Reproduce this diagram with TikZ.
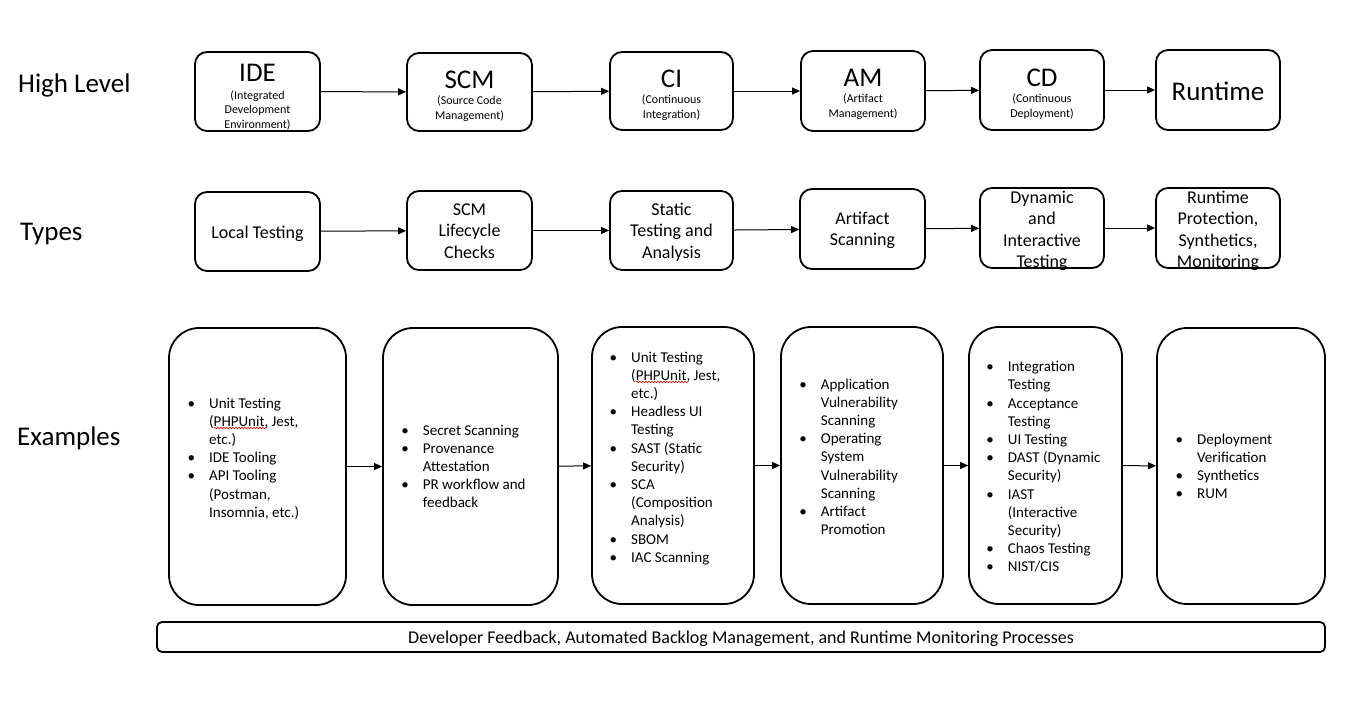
\documentclass[tikz,border=0pt]{standalone}
\usepackage{fontspec}
\setmainfont{Carlito}
\usetikzlibrary{arrows.meta,decorations.pathmorphing}
\newcommand{\BigF}{\fontsize{27}{32}\selectfont}
\newcommand{\SmallF}{\fontsize{12}{14.6}\selectfont}
\newcommand{\MidF}{\fontsize{18}{21.6}\selectfont}
\newcommand{\ExF}{\fontsize{15}{18.2}\selectfont}
\newcommand{\BarF}{\fontsize{18}{21.6}\selectfont}
\begin{document}
\begin{tikzpicture}[x=1pt,y=-1pt,
  hbox/.style={draw, line width=1.8pt, rounded corners=12pt, inner sep=0pt},
  ebox/.style={draw, line width=1.8pt, rounded corners=30pt, inner sep=0pt},
  bar/.style={draw, line width=1.8pt, rounded corners=5pt, inner sep=0pt},
  arr/.style={-{Triangle[length=8pt,width=7pt]}, line width=1pt},
  rowlabel/.style={font=\BigF, anchor=base west, inner sep=0pt},
  toptext/.style={font=\SmallF, anchor=base, inner sep=0pt},
  midtext/.style={font=\MidF, anchor=base, inner sep=0pt},
  extext/.style={font=\ExF, anchor=base west, inner sep=0pt},
  squig/.style={draw=red, line width=0.6pt, decorate, decoration={snake, amplitude=0.8pt, segment length=3pt}}
]
\useasboundingbox[fill=white] (0,0) rectangle (1357,710);

% row labels
\node[rowlabel] (lhigh) at (18,92.7) {High Level};
\node[rowlabel] (ltypes) at (20,240) {Types};
\node[rowlabel] (lex) at (17,445) {Examples};

% ---------- row 1 ----------
\node[hbox, minimum width=125pt, minimum height=79pt] (ide) at (257.5,91.5) {};
\node[hbox, minimum width=125pt, minimum height=78pt] (scm) at (469.5,92) {};
\node[hbox, minimum width=123pt, minimum height=78pt] (ci) at (671.5,91) {};
\node[hbox, minimum width=124pt, minimum height=80pt] (am) at (863,91) {};
\node[hbox, minimum width=124pt, minimum height=80pt] (cd) at (1042,90) {};
\node[hbox, minimum width=124pt, minimum height=80pt] (rt) at (1218,90) {};

\node[toptext] (ideT) at (257.5,81) {\begin{tabular}[t]{@{}c@{}}{\BigF IDE}\\[3.5pt] (Integrated\\ Development\\ Environment)\end{tabular}};
\node[toptext] (scmT) at (469.5,88) {\begin{tabular}[t]{@{}c@{}}{\BigF SCM}\\[1.8pt] (Source Code\\ Management)\end{tabular}};
\node[toptext] (ciT) at (671.5,87.5) {\begin{tabular}[t]{@{}c@{}}{\BigF CI}\\[1.8pt] (Continuous\\ Integration)\end{tabular}};
\node[toptext] (amT) at (863,86.5) {\begin{tabular}[t]{@{}c@{}}{\BigF AM}\\[1.8pt] (Artifact\\ Management)\end{tabular}};
\node[toptext] (cdT) at (1042,86.5) {\begin{tabular}[t]{@{}c@{}}{\BigF CD}\\[1.8pt] (Continuous\\ Deployment)\end{tabular}};
\node[toptext, font=\BigF] (rtT) at (1218,100) {Runtime};

\draw[arr] (ide) -- (scm);
\draw[arr] (scm) -- (ci);
\draw[arr] (ci) -- (am);
\draw[arr] (am) -- (cd);
\draw[arr] (cd) -- (rt);

% ---------- row 2 ----------
\node[hbox, minimum width=125pt, minimum height=79pt] (loc) at (257.5,231.5) {};
\node[hbox, minimum width=125pt, minimum height=79pt] (scml) at (469.5,230.5) {};
\node[hbox, minimum width=123pt, minimum height=79pt] (sta) at (671.5,230.5) {};
\node[hbox, minimum width=125pt, minimum height=80pt] (art) at (862.5,229) {};
\node[hbox, minimum width=124pt, minimum height=80pt] (dyn) at (1042,228) {};
\node[hbox, minimum width=124pt, minimum height=80pt] (rtp) at (1218,228) {};

\node[midtext] (locT) at (257.5,238) {Local Testing};
\node[midtext] (scmlT) at (469.5,215) {\begin{tabular}[t]{@{}c@{}}SCM\\ Lifecycle\\ Checks\end{tabular}};
\node[midtext] (staT) at (671.5,215) {\begin{tabular}[t]{@{}c@{}}Static\\ Testing and\\ Analysis\end{tabular}};
\node[midtext] (artT) at (862.5,224) {\begin{tabular}[t]{@{}c@{}}Artifact\\ Scanning\end{tabular}};
\node[midtext] (dynT) at (1042,203) {\begin{tabular}[t]{@{}c@{}}Dynamic\\ and\\ Interactive\\ Testing\end{tabular}};
\node[midtext] (rtpT) at (1218,203) {\begin{tabular}[t]{@{}c@{}}Runtime\\ Protection,\\ Synthetics,\\ Monitoring\end{tabular}};

\draw[arr] (loc) -- (scml);
\draw[arr] (scml) -- (sta);
\draw[arr] (sta) -- (art);
\draw[arr] (art) -- (dyn);
\draw[arr] (dyn) -- (rtp);

% ---------- row 3 ----------
\node[ebox, minimum width=177pt, minimum height=277pt] (e1) at (257.5,466.5) {};
\node[ebox, minimum width=175pt, minimum height=277pt] (e2) at (470.5,466.5) {};
\node[ebox, minimum width=162pt, minimum height=277pt] (e3) at (673,465.5) {};
\node[ebox, minimum width=162pt, minimum height=277pt] (e4) at (862,465.5) {};
\node[ebox, minimum width=153pt, minimum height=277pt] (e5) at (1045.5,465.5) {};
\node[ebox, minimum width=168pt, minimum height=276pt] (e6) at (1241,466) {};

\node[extext] (e1T) at (187.5,408) {\begin{tabular}[t]{@{}p{21.5pt}@{}l@{}}
\textbullet & Unit Testing\\ & (PHPUnit, Jest,\\ & etc.)\\
\textbullet & IDE Tooling\\
\textbullet & API Tooling\\ & (Postman,\\ & Insomnia, etc.)\end{tabular}};
\node[extext] (e2T) at (401.2,435) {\begin{tabular}[t]{@{}p{21.5pt}@{}l@{}}
\textbullet & Secret Scanning\\
\textbullet & Provenance\\ & Attestation\\
\textbullet & PR workflow and\\ & feedback\end{tabular}};
\node[extext] (e3T) at (609.5,362) {\begin{tabular}[t]{@{}p{21.5pt}@{}l@{}}
\textbullet & Unit Testing\\ & (PHPUnit, Jest,\\ & etc.)\\
\textbullet & Headless UI\\ & Testing\\
\textbullet & SAST (Static\\ & Security)\\
\textbullet & SCA\\ & (Composition\\ & Analysis)\\
\textbullet & SBOM\\
\textbullet & IAC Scanning\end{tabular}};
\node[extext] (e4T) at (799.2,389) {\begin{tabular}[t]{@{}p{21.5pt}@{}l@{}}
\textbullet & Application\\ & Vulnerability\\ & Scanning\\
\textbullet & Operating\\ & System\\ & Vulnerability\\ & Scanning\\
\textbullet & Artifact\\ & Promotion\end{tabular}};
\node[extext] (e5T) at (986.2,371.7) {\begin{tabular}[t]{@{}p{21.5pt}@{}l@{}}
\textbullet & Integration\\ & Testing\\
\textbullet & Acceptance\\ & Testing\\
\textbullet & UI Testing\\
\textbullet & DAST (Dynamic\\ & Security)\\
\textbullet & IAST\\ & (Interactive\\ & Security)\\
\textbullet & Chaos Testing\\
\textbullet & NIST/CIS\end{tabular}};
\node[extext] (e6T) at (1175.5,444) {\begin{tabular}[t]{@{}p{21.5pt}@{}l@{}}
\textbullet & Deployment\\ & Verification\\
\textbullet & Synthetics\\
\textbullet & RUM\end{tabular}};

% spell-check squiggles
\path[squig] (214,428) -- (267,428);
\path[squig] (636,382) -- (688,382);

\draw[arr] (e1) -- (e2);
\draw[arr] (e2) -- (e3);
\draw[arr] (e3) -- (e4);
\draw[arr] (e4) -- (e5);
\draw[arr] (e5) -- (e6);

% ---------- bottom bar ----------
\node[bar, minimum width=1168pt, minimum height=30pt] (fb) at (741,637) {};
\node[font=\BarF, anchor=base, inner sep=0pt] (fbT) at (741,643) {Developer Feedback, Automated Backlog Management, and Runtime Monitoring Processes};
\end{tikzpicture}
\end{document}
